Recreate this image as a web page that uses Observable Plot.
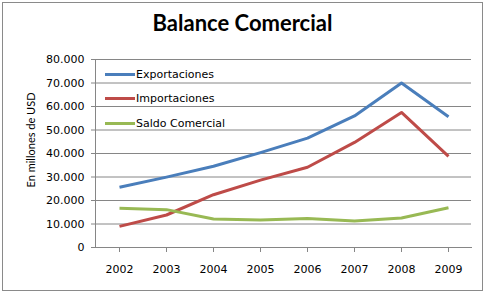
<!DOCTYPE html>
<html>
<head>
<meta charset="utf-8">
<script src="https://cdn.jsdelivr.net/npm/d3@7"></script>
<script src="https://cdn.jsdelivr.net/npm/@observablehq/plot@0.6"></script>
<style>
  html, body { margin: 0; padding: 0; background: #fff; }
  #chart { position: relative; width: 485px; height: 293px; overflow: hidden; }
  #frame { position: absolute; left: 2px; top: 2px; width: 479px; height: 287px; border: 1px solid #8a8a8a; box-sizing: content-box; pointer-events: none; }
  #title { position: absolute; left: 0; width: 485px; top: 9px; text-align: center; font: bold 22px Lato, "Open Sans", sans-serif; color: #000; }
  #ylabel { position: absolute; left: 30px; top: 140px; transform: translate(-50%, -50%) rotate(-90deg); white-space: nowrap; font: 11px Lato, "Open Sans", sans-serif; color: #000; }
  #legend { position: absolute; left: 105px; top: 62px; font: 11px "DejaVu Sans", sans-serif; color: #000; }
  #legend .item { display: flex; align-items: center; height: 24.5px; }
  #legend .sw { width: 30px; height: 3px; margin-right: 1px; }
  svg { display: block; }
</style>
</head>
<body>
<div id="chart">
  <div id="title">Balance Comercial</div>
  <div id="ylabel">En millones de USD</div>
  <div id="legend"></div>
  <div id="frame"></div>
</div>
<script>
// Years on the horizontal axis
const years = ["2002", "2003", "2004", "2005", "2006", "2007", "2008", "2009"];
// Values in millions of USD
const exportaciones = [25650, 29940, 34580, 40390, 46550, 55980, 70020, 55670];
const importaciones = [8990, 13830, 22450, 28690, 34150, 44710, 57460, 38780];
const saldoComercial = [16660, 16110, 12130, 11700, 12390, 11270, 12560, 16890];
// Series names and colours
const seriesNames = ["Exportaciones", "Importaciones", "Saldo Comercial"];
const seriesColors = ["#4a7ebb", "#be4b48", "#98b954"];
// Y tick values
const yTicks = [0, 10000, 20000, 30000, 40000, 50000, 60000, 70000, 80000];

const seriesValues = [exportaciones, importaciones, saldoComercial];
const rows = seriesNames.flatMap((name, i) =>
  years.map((year, j) => ({series: name, year, value: seriesValues[i][j]}))
);

const es = d3.formatLocale({decimal: ",", thousands: ".", grouping: [3], currency: ["", " €"]});
const fmt = es.format(",");

const chart = Plot.plot({
  width: 485,
  height: 293,
  marginLeft: 95,
  marginRight: 14,
  marginTop: 59,
  marginBottom: 46,
  style: {fontFamily: "'DejaVu Sans', sans-serif", fontSize: "11px", color: "#000", background: "transparent"},
  x: {type: "point", domain: years, padding: 0.5, label: null},
  y: {domain: [0, 80000], label: null},
  color: {domain: seriesNames, range: seriesColors},
  marks: [
    Plot.gridY(yTicks, {stroke: "#868686", strokeOpacity: 1, strokeWidth: 1}),
    Plot.axisY(yTicks, {tickFormat: fmt, tickSize: 4, tickPadding: 7, stroke: "#868686", label: null}),
    Plot.axisX({tickSize: 5, tickPadding: 13, stroke: "#868686", label: null}),
    Plot.frame({anchor: "left", stroke: "#868686"}),
    Plot.frame({anchor: "bottom", stroke: "#868686"}),
    Plot.line(rows, {x: "year", y: "value", z: "series", stroke: "series", strokeWidth: 3, strokeLinejoin: "round", strokeLinecap: "butt"})
  ]
});
document.getElementById("chart").insertBefore(chart, document.getElementById("title"));

// Legend entries inside the plot area
const legend = d3.select("#legend");
seriesNames.forEach((name, i) => {
  const item = legend.append("div").attr("class", "item");
  item.append("div").attr("class", "sw").style("background", seriesColors[i]);
  item.append("span").text(name);
});
</script>
</body>
</html>
